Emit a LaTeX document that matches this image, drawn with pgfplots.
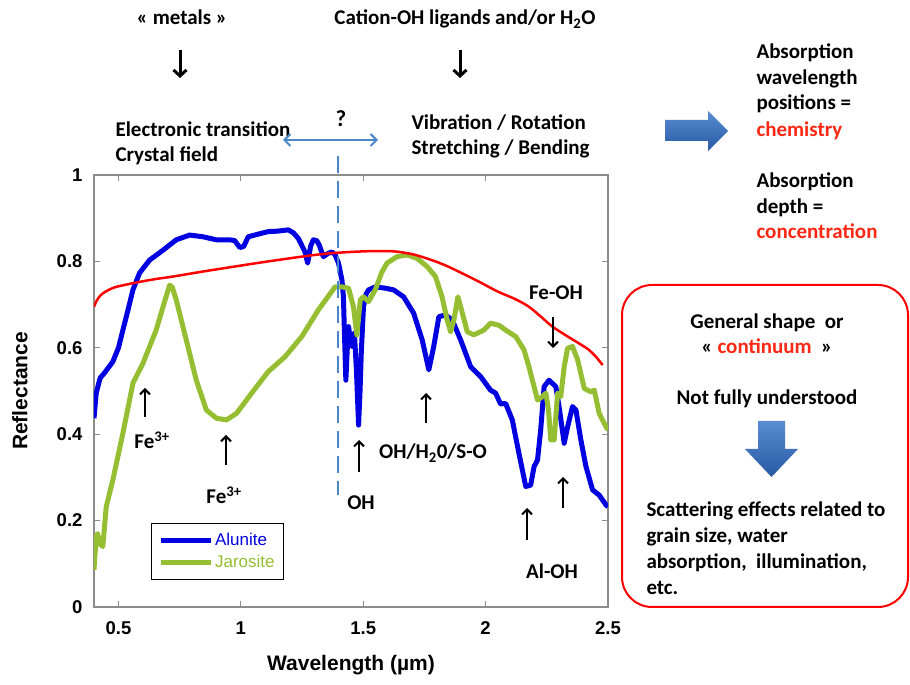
\documentclass[border=0pt]{standalone}
\usepackage{fontspec}
\setmainfont{Carlito}
\newfontfamily\arialf{Liberation Sans}
\usepackage{pgfplots}
\pgfplotsset{compat=1.18}
\usetikzlibrary{arrows.meta}
\definecolor{alublue}{RGB}{0,0,225}
\definecolor{jarogreen}{RGB}{150,190,50}
\definecolor{contred}{RGB}{255,0,0}
\definecolor{dashblue}{RGB}{75,135,200}
\definecolor{txtred}{RGB}{250,40,20}
\definecolor{arrtop}{RGB}{90,140,210}
\definecolor{arrbot}{RGB}{40,90,165}
\definecolor{axgray}{RGB}{140,140,140}
\newcommand\ann{\fontsize{21}{25}\selectfont\bfseries}
\begin{document}
\begin{tikzpicture}
\begin{axis}[name=ax, scale only axis, width=514pt, height=432pt,
 xmin=0.4, xmax=2.5, ymin=0, ymax=1,
 xtick={0.5,1,1.5,2,2.5}, xticklabels={0.5,1,1.5,2,2.5},
 ytick={0,0.2,0.4,0.6,0.8,1}, yticklabels={0,0.2,0.4,0.6,0.8,1},
 tick align=inside, major tick length=6pt,
 tick style={axgray, line width=1.2pt},
 axis line style={axgray, line width=1.5pt},
 tick label style={font=\arialf\bfseries\fontsize{18.5}{18.5}\selectfont, text=black},
 xticklabel style={yshift=-11pt},
 yticklabel style={xshift=-8pt},
 xlabel={Wavelength (µm)}, ylabel={Reflectance},
 label style={font=\arialf\bfseries\fontsize{21}{21}\selectfont},
 xlabel style={at={(axis description cs:0.5,-0.134)}, anchor=center},
 ylabel style={at={(axis description cs:-0.144,0.5)}, anchor=center},
 legend style={at={(rel axis cs:0.1109,0.1944)}, anchor=north west, draw=black, line width=1.2pt, fill=white,
   inner xsep=7pt, inner ysep=8pt, font=\arialf\fontsize{17}{17}\selectfont, row sep=4pt},
 legend cell align=left,
 legend image code/.code={\draw[#1, line width=4.5pt] (0pt,0pt) -- (50pt,0pt);},
]
\addplot[alublue, line width=5pt, line join=round] coordinates {
(0.400,0.437) (0.409,0.495) (0.425,0.53) (0.443,0.542) (0.477,0.568) (0.500,0.60) (0.518,0.641) (0.540,0.69)
(0.559,0.734) (0.586,0.773) (0.627,0.803) (0.682,0.826) (0.736,0.850) (0.791,0.861) (0.845,0.857) (0.900,0.850)
(0.955,0.850) (0.975,0.848) (0.996,0.832) (1.012,0.835) (1.030,0.857) (1.070,0.863) (1.112,0.869) (1.150,0.870)
(1.194,0.873) (1.215,0.866) (1.235,0.853) (1.262,0.822) (1.273,0.796) (1.285,0.835) (1.296,0.850) (1.310,0.848)
(1.320,0.838) (1.337,0.811) (1.355,0.818) (1.372,0.822) (1.385,0.815) (1.399,0.796) (1.413,0.757) (1.419,0.718)
(1.424,0.62) (1.429,0.525) (1.435,0.60) (1.440,0.649) (1.447,0.62) (1.454,0.603) (1.464,0.634) (1.472,0.55)
(1.481,0.421) (1.487,0.50) (1.492,0.588) (1.501,0.695) (1.512,0.725) (1.522,0.734) (1.549,0.741) (1.590,0.738)
(1.624,0.734) (1.665,0.718) (1.706,0.680) (1.741,0.618) (1.768,0.549) (1.788,0.603) (1.809,0.672) (1.836,0.676)
(1.864,0.664) (1.898,0.618) (1.939,0.556) (1.980,0.533) (2.020,0.502) (2.041,0.495) (2.061,0.470) (2.082,0.471)
(2.109,0.433) (2.136,0.356) (2.164,0.279) (2.184,0.282) (2.198,0.325) (2.212,0.340) (2.225,0.410) (2.239,0.510)
(2.259,0.525) (2.287,0.510) (2.300,0.464) (2.321,0.379) (2.335,0.417) (2.355,0.464) (2.369,0.456) (2.389,0.387)
(2.410,0.325) (2.437,0.271) (2.464,0.259) (2.492,0.236) (2.5,0.232)};
\addlegendentry{\textcolor{alublue}{Alunite}}
\addplot[jarogreen, line width=5pt, line join=round] coordinates {
(0.400,0.086) (0.405,0.13) (0.409,0.163) (0.415,0.17) (0.422,0.147) (0.436,0.140) (0.450,0.232) (0.477,0.294)
(0.518,0.402) (0.559,0.518) (0.600,0.564) (0.654,0.641) (0.690,0.710) (0.709,0.745) (0.720,0.740) (0.736,0.711)
(0.777,0.618) (0.818,0.525) (0.859,0.456) (0.900,0.437) (0.941,0.433) (0.982,0.448) (1.044,0.495) (1.112,0.545)
(1.180,0.579) (1.249,0.626) (1.317,0.688) (1.385,0.741) (1.413,0.741) (1.440,0.738) (1.460,0.695) (1.474,0.630)
(1.488,0.711) (1.501,0.718) (1.522,0.707) (1.549,0.734) (1.576,0.775) (1.597,0.796) (1.638,0.811) (1.679,0.815)
(1.720,0.807) (1.761,0.788) (1.795,0.765) (1.822,0.718) (1.843,0.664) (1.857,0.637) (1.870,0.664) (1.887,0.718)
(1.905,0.680) (1.925,0.637) (1.952,0.630) (1.993,0.641) (2.020,0.657) (2.055,0.652) (2.082,0.641) (2.123,0.626)
(2.157,0.595) (2.177,0.556) (2.198,0.510) (2.212,0.479) (2.232,0.487) (2.246,0.495) (2.257,0.456) (2.266,0.387)
(2.280,0.387) (2.294,0.495) (2.307,0.487) (2.321,0.556) (2.335,0.599) (2.355,0.603) (2.376,0.572) (2.403,0.506)
(2.430,0.498) (2.444,0.502) (2.464,0.448) (2.492,0.417) (2.5,0.41)};
\addlegendentry{\textcolor{jarogreen}{Jarosite}}
\addplot[contred, line width=2.5pt, smooth, forget plot] coordinates {
(0.400,0.695) (0.41,0.708) (0.42,0.717) (0.436,0.726) (0.46,0.734) (0.491,0.741) (0.572,0.751) (0.65,0.759)
(0.723,0.765) (0.85,0.777) (0.996,0.790) (1.1,0.799) (1.249,0.811) (1.35,0.818) (1.454,0.822) (1.55,0.824)
(1.63,0.823) (1.706,0.816) (1.78,0.803) (1.843,0.789) (1.92,0.768) (1.980,0.751) (2.05,0.730) (2.12,0.713)
(2.177,0.695) (2.23,0.670) (2.273,0.649) (2.33,0.628) (2.382,0.610) (2.42,0.596) (2.451,0.579) (2.478,0.560)};
\end{axis}
\begin{scope}[shift={(ax.south west)}, shift={(-94pt,607pt)}, x=1pt, y=-1pt]
% top texts
\node[font=\ann, anchor=base] at (182,25) {« metals »};
\node[font=\ann, anchor=base] at (465,25) {Cation-OH ligands and/or H\textsubscript{2}O};
\draw[line width=3pt, -{Straight Barb[length=6pt,width=13pt]}] (180,50) -- (180,78);
\draw[line width=3pt, -{Straight Barb[length=6pt,width=13pt]}] (460,50) -- (460,78);
\node[font=\ann, anchor=base west] at (112,137) {Electronic transition};
\node[font=\ann, anchor=base west] at (112,162) {Crystal field};
\node[font=\ann\fontsize{23}{25}\selectfont, anchor=base] at (341,127) {?};
\draw[dashblue, line width=2pt, {Straight Barb[length=6pt,width=12pt]}-{Straight Barb[length=6pt,width=12pt]}] (283,140) -- (378,140);
\draw[dashblue, line width=2pt, dash pattern=on 17pt off 8pt] (338,156) -- (338,495);
\node[font=\ann, anchor=base west] at (408,130) {Vibration / Rotation};
\node[font=\ann, anchor=base west] at (408,155) {Stretching / Bending};
% right arrow
\shade[top color=arrtop, bottom color=arrbot] (665,120) -- (708,120) -- (708,111) -- (728,131) -- (708,151) -- (708,141) -- (665,141) -- cycle;
\node[font=\ann, anchor=base west] at (753,59) {Absorption};
\node[font=\ann, anchor=base west] at (753,85) {wavelength};
\node[font=\ann, anchor=base west] at (753,110) {positions =};
\node[font=\ann, anchor=base west, text=txtred] at (753,137) {chemistry};
\node[font=\ann, anchor=base west] at (753,188) {Absorption};
\node[font=\ann, anchor=base west] at (753,214) {depth =};
\node[font=\ann, anchor=base west, text=txtred] at (753,239) {concentration};
% box
\draw[red, line width=2pt, rounded corners=30pt] (622,285) rectangle (908,607);
\node[font=\ann, anchor=base] at (767,329) {General shape \ or};
\node[font=\ann, anchor=base] at (767,354) {« \textcolor{txtred}{continuum} \ »};
\node[font=\ann, anchor=base] at (767,405) {Not fully understood};
\shade[top color=arrtop, bottom color=arrbot] (758,421) -- (785,421) -- (785,449) -- (798,449) -- (771.5,477) -- (745,449) -- (758,449) -- cycle;
\node[font=\ann, anchor=base west] at (643,517) {Scattering effects related to};
\node[font=\ann, anchor=base west] at (643,543) {grain size, water};
\node[font=\ann, anchor=base west] at (643,569) {absorption, \ illumination,};
\node[font=\ann, anchor=base west] at (643,595) {etc.};
% in-plot annotations
\node[font=\ann, anchor=base] at (152,449) {Fe\textsuperscript{3+}};
\draw[line width=2pt, -{Straight Barb[length=5pt,width=10pt]}] (145,417) -- (145,388);
\node[font=\ann, anchor=base] at (224,504) {Fe\textsuperscript{3+}};
\draw[line width=2pt, -{Straight Barb[length=5pt,width=10pt]}] (226,465) -- (226,435);
\node[font=\ann, anchor=base] at (361,510) {OH};
\draw[line width=2pt, -{Straight Barb[length=5pt,width=10pt]}] (359,472) -- (359,440);
\node[font=\ann, anchor=base] at (433,459) {OH/H\textsubscript{2}0/S-O};
\draw[line width=2pt, -{Straight Barb[length=5pt,width=10pt]}] (426,423) -- (426,393);
\node[font=\ann, anchor=base] at (552,579) {Al-OH};
\draw[line width=2pt, -{Straight Barb[length=5pt,width=10pt]}] (527,540) -- (527,508);
\draw[line width=2pt, -{Straight Barb[length=5pt,width=10pt]}] (563,508) -- (563,477);
\node[font=\ann, anchor=base] at (556,300) {Fe-OH};
\draw[line width=2pt, -{Straight Barb[length=5pt,width=10pt]}] (553,317) -- (553,348);
\pgfresetboundingbox
\useasboundingbox (0,0) rectangle (910,685);
\end{scope}
\end{tikzpicture}
\end{document}
